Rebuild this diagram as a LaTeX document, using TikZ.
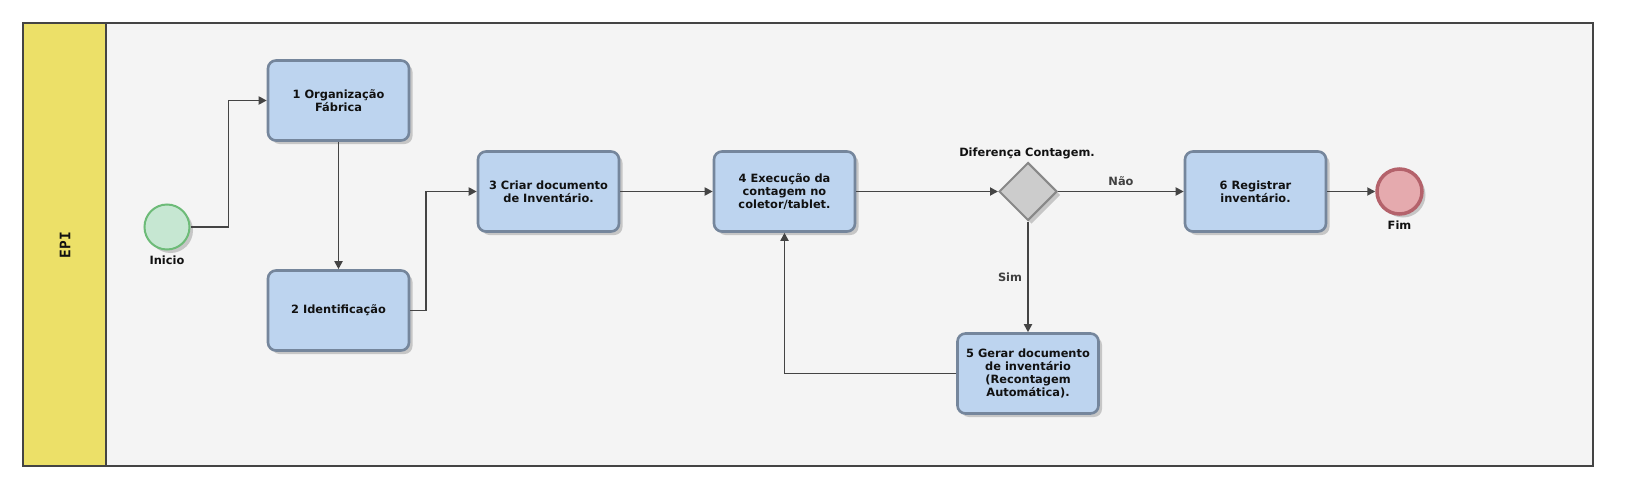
\documentclass[tikz,border=0pt]{standalone}
\usepackage{fontspec}
\setmainfont{DejaVu Sans}
\newfontfamily\monofnt{DejaVu Sans Mono}
\usetikzlibrary{shapes.geometric,arrows.meta,shadows}
\definecolor{lanefill}{HTML}{F4F4F4}
\definecolor{lanehead}{HTML}{ECE068}
\definecolor{poolline}{HTML}{444444}
\definecolor{taskfill}{HTML}{BDD4EF}
\definecolor{taskline}{HTML}{75869C}
\definecolor{startfill}{HTML}{C6E7D2}
\definecolor{startline}{HTML}{6DBB78}
\definecolor{endfill}{HTML}{E5AAAE}
\definecolor{endline}{HTML}{B4626B}
\definecolor{gatefill}{HTML}{CCCCCC}
\definecolor{gateline}{HTML}{888888}
\definecolor{flowline}{HTML}{444444}
\definecolor{txt}{HTML}{111111}
\begin{document}
\begin{tikzpicture}[x=1pt,y=-1pt,
  shd/.style={drop shadow={shadow xshift=3.5pt,shadow yshift=-3.5pt,opacity=0.35,fill=black!55}},
  task/.style={shd,rectangle,rounded corners=8pt,fill=taskfill,draw=taskline,line width=2.6pt,
    minimum width=141pt,minimum height=80pt,align=center,text=txt,inner sep=2pt,
    font=\fontsize{11.4}{13}\selectfont\bfseries},
  startev/.style={shd,circle,fill=startfill,draw=startline,line width=2pt,minimum size=45pt,inner sep=0pt},
  endev/.style={shd,circle,fill=endfill,draw=endline,line width=3.5pt,minimum size=45pt,inner sep=0pt},
  gate/.style={shd,diamond,fill=gatefill,draw=gateline,line width=2pt,minimum width=58pt,minimum height=58pt,inner sep=0pt},
  lbl/.style={text=txt,font=\fontsize{11.4}{13}\selectfont\bfseries,inner sep=0pt},
  flowlbl/.style={text=black!75,font=\fontsize{11.4}{13}\selectfont\bfseries,inner sep=0pt},
  flow/.style={draw=flowline,line width=1.8pt,-{Triangle[length=8pt,width=8pt]}},
]
\useasboundingbox (0,0) rectangle (1626,490);
% pool and lane
\path[fill=lanefill,draw=poolline,line width=2pt] (23,23) rectangle (1593,466);
\path[fill=lanehead,draw=poolline,line width=2pt] (23,23) rectangle (106,466);
\node[rotate=90,text=txt,font=\monofnt\fontsize{14.5}{16}\selectfont\bfseries] (lane) at (65,245) {EPI};
% nodes
\node[startev] (s) at (167,227) {};
\node[lbl] (sl) at (167,260) {Inicio};
\node[task] (b1) at (338.5,100.5) {1 Organização\\Fábrica};
\node[task] (b2) at (338.5,310.5) {2 Identificação};
\node[task] (b3) at (548.5,191.5) {3 Criar documento\\de Inventário.};
\node[task] (b4) at (784.5,191.5) {4 Execução da\\contagem no\\coletor/tablet.};
\node[gate] (g) at (1028,191.5) {};
\node[lbl] (gl) at (1027,153) {Diferença Contagem.};
\node[task] (b5) at (1028,373.5) {5 Gerar documento\\de inventário\\(Recontagem\\Automática).};
\node[task] (b6) at (1255.5,191.5) {6 Registrar\\inventário.};
\node[endev] (e) at (1399.5,191.5) {};
\node[lbl] (el) at (1399.5,225) {Fim};
% connectors
\draw[flow] (s.east) -- ++(38,0) |- (b1.west);
\draw[flow] (b1.south) -- (b2.north);
\draw[flow] (b2.east) -- ++(16,0) |- (b3.west);
\draw[flow] (b3.east) -- (b4.west);
\draw[flow] (b4.east) -- (g.west);
\draw[flow] (g.east) -- (b6.west);
\node[flowlbl] (nao) at (1121,181) {Não};
\draw[flow] (g.south) -- (b5.north);
\node[flowlbl] (sim) at (1010,277) {Sim};
\draw[flow] (b5.west) -| (b4.south);
\draw[flow] (b6.east) -- (e.west);
\end{tikzpicture}
\end{document}
